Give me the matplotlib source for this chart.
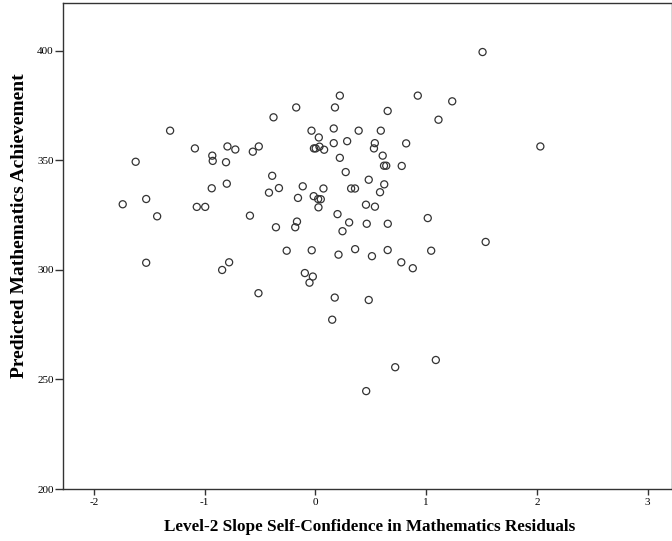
import matplotlib

matplotlib.use("Agg")
import matplotlib.pyplot as plt

# Level-2 slope residuals (self-confidence in mathematics) per school
slope_resid = [
    1.509, 0.924, 1.235, 1.111, 0.819, 0.779, 2.031, 1.014, 0.220, -0.174,
    0.176, 0.652, -0.379, -0.036, 0.165, 0.390, 0.590, 0.030, 0.286, 0.165,
    0.536, 0.528, -0.014, 0.002, 0.036, 0.078, 0.607, 0.220, 0.619, 0.639,
    0.273, 0.481, 0.621, -0.391, -0.330, -0.420, -0.115, 0.072, 0.322, 0.357,
    0.583, -0.158, -0.016, 0.024, 0.048, 0.027, 0.456, 0.537, 0.199, -0.592,
    -0.512, -0.566, -0.167, 0.304, -1.313, -1.089, -0.795, -0.724, -0.932, -0.928,
    -0.808, -1.624, -0.937, -0.801, -1.741, -1.529, -1.072, -0.996, -1.430, -1.529,
    -0.780, -0.843, -0.357, -0.183, 0.244, 0.463, 0.653, -0.260, -0.034, 0.208,
    0.358, 0.510, 0.652, 0.775, -0.096, -0.024, -0.054, -0.515, 0.174, 0.481,
    0.151, 0.720, 0.458, 1.537, 1.045, 0.879, 1.087,
]

# Predicted mathematics achievement per school
pred_math = [
    399.5, 379.6, 377.0, 368.6, 357.8, 347.5, 356.4, 323.7, 379.6, 374.2,
    374.2, 372.6, 369.7, 363.6, 364.6, 363.6, 363.6, 360.5, 358.8, 357.9,
    357.9, 355.5, 355.5, 355.5, 356.3, 354.9, 352.2, 351.2, 347.6, 347.6,
    344.7, 341.2, 339.1, 343.0, 337.4, 335.3, 338.2, 337.2, 337.2, 337.2,
    335.5, 332.9, 333.7, 332.4, 332.3, 328.6, 329.8, 328.9, 325.5, 324.8,
    356.4, 354.0, 322.1, 321.7, 363.6, 355.5, 356.4, 355.0, 352.2, 349.8,
    349.2, 349.4, 337.3, 339.4, 330.0, 332.4, 328.8, 328.8, 324.5, 303.3,
    303.5, 300.0, 319.5, 319.5, 317.7, 321.1, 321.1, 308.8, 309.0, 307.0,
    309.5, 306.3, 309.1, 303.5, 298.6, 297.0, 294.2, 289.4, 287.4, 286.3,
    277.3, 255.6, 244.7, 312.8, 308.8, 300.8, 258.9,
]

x_ticks = [-2, -1, 0, 1, 2, 3]
y_ticks = [200, 250, 300, 350, 400]

plt.rcParams["font.family"] = "Liberation Serif"

fig = plt.figure(figsize=(6.72, 5.41), dpi=100)
ax = fig.add_axes([0.0938, 0.0961, 0.9062, 0.8984])

ax.scatter(slope_resid, pred_math, s=26, facecolors="none",
           edgecolors="#333333", linewidths=0.9, zorder=3)

ax.set_xlim(-2.28, 3.22)
ax.set_ylim(200, 421.9)
ax.set_xticks(x_ticks)
ax.set_yticks(y_ticks)
ax.set_xticklabels([str(t) for t in x_ticks])
ax.set_yticklabels([str(t) for t in y_ticks])
ax.tick_params(axis="both", direction="out", width=1, color="#333333",
               labelsize=8)
ax.tick_params(axis="x", length=4.3, pad=2)
ax.tick_params(axis="y", length=5.8, pad=1)

for side in ["left", "bottom", "top", "right"]:
    ax.spines[side].set_color("#333333")
    ax.spines[side].set_linewidth(1.0)

ax.set_xlabel("Level-2 Slope Self-Confidence in Mathematics Residuals",
              fontsize=12.3, fontweight="bold", va="center")
ax.set_ylabel("Predicted Mathematics Achievement",
              fontsize=14.0, fontweight="bold", va="center")
ax.xaxis.set_label_coords(0.504, -0.078)
ax.yaxis.set_label_coords(-0.072, 0.541)

fig.savefig("out.png", dpi=100)
plt.close(fig)
